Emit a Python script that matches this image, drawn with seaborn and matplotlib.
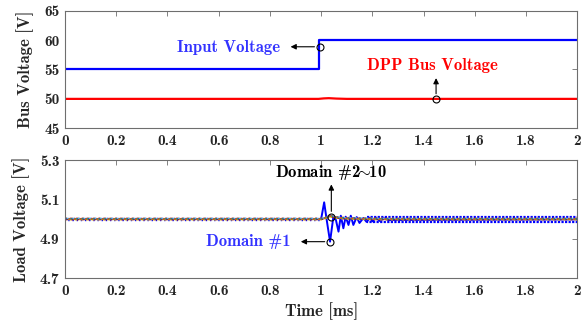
import numpy as np
import pandas as pd
import matplotlib
matplotlib.use("Agg")
import matplotlib.pyplot as plt
import seaborn as sns

# ---------------- data ----------------
# Top panel
t_in = [0.0, 0.99, 0.99, 2.0]
v_in = [55.0, 55.0, 60.0, 60.0]
t_bus = [0.0, 0.99, 1.01, 1.03, 1.06, 1.10, 2.0]
v_bus = [50.0, 50.0, 50.08, 50.12, 50.05, 50.0, 50.0]

# Bottom panel: Domain #1 transient
t_d1 = [0.0, 1.000, 1.003, 1.012, 1.022, 1.035, 1.048, 1.058, 1.068, 1.077, 1.087,
        1.096, 1.107, 1.116, 1.126, 1.139, 1.150, 1.165, 1.178, 1.19, 1.20, 1.215,
        1.23, 1.245, 1.26, 2.0]
v_d1 = [5.0, 5.0, 5.02, 5.085, 4.995, 4.885, 5.012, 4.995, 4.936, 5.017, 4.953,
        5.012, 4.970, 5.017, 4.970, 5.010, 4.980, 5.005, 4.985, 5.006, 4.988, 5.005,
        4.99, 5.004, 4.995, 4.998]
# Domain #1 ripple envelope (steady state)
t_rip_pre = [0.0, 1.0]
v_rip_pre_hi = [5.006, 5.006]
v_rip_pre_lo = [4.994, 4.994]
t_rip_post = [1.18, 2.0]
v_rip_post_hi = [5.011, 5.011]
v_rip_post_lo = [4.986, 4.986]

# Domains #2~10
t_dom = [0.0, 1.0, 1.015, 1.035, 1.06, 1.09, 1.15, 1.25, 2.0]
v_dom = [5.0, 5.0, 5.005, 5.015, 5.008, 5.004, 5.002, 5.0, 5.0]
dom_offsets = [0.004, -0.004, 0.002, -0.002, 0.003, -0.003, 0.001, -0.001, 0.0]
dom_colors = ["#D95319", "#EDB120", "#7E2F8E", "#77AC30", "#4DBEEE",
              "#A2142F", "#0072BD", "#77AC30", "#D95319"]

x_ticks = [0, 0.2, 0.4, 0.6, 0.8, 1, 1.2, 1.4, 1.6, 1.8, 2]
x_ticklabels = ["0", "0.2", "0.4", "0.6", "0.8", "1", "1.2", "1.4", "1.6", "1.8", "2"]
y1_ticks = [45, 50, 55, 60, 65]
y2_ticks = [4.7, 4.9, 5.1, 5.3]
y2_ticklabels = ["4.7", "4.9", "5.1", "5.3"]

# ---------------- style ----------------
sns.set_theme(style="white")
plt.rcParams["font.family"] = ["cmb10", "DejaVu Serif"]
plt.rcParams["mathtext.fontset"] = "cm"
plt.rcParams["axes.unicode_minus"] = False

fig = plt.figure(figsize=(5.83, 3.2), dpi=100)
ax1 = fig.add_axes([0.1115, 0.599, 0.8785, 0.368])
ax2 = fig.add_axes([0.1115, 0.131, 0.8785, 0.369])

TFS = 11      # tick labels
LFS = 12      # axis labels
AFS = 12      # annotations
dark = "#262626"

def style_axis(ax):
    for s in ax.spines.values():
        s.set_color("#6e6e6e")
        s.set_linewidth(0.8)
    ax.tick_params(direction="in", length=3.5, width=0.6, color="#6e6e6e",
                   top=True, right=True, labelsize=TFS, labelcolor=dark, pad=4)
    ax.set_xlim(0, 2)
    ax.set_xticks(x_ticks)
    ax.set_xticklabels(x_ticklabels)

# Top panel
sns.lineplot(x=t_in, y=v_in, ax=ax1, color="#0000ff", lw=1.6, sort=False, estimator=None)
sns.lineplot(x=t_bus, y=v_bus, ax=ax1, color="#ff0000", lw=1.6, sort=False, estimator=None)
style_axis(ax1)
ax1.set_ylim(45, 65)
ax1.set_yticks(y1_ticks)
ax1.set_ylabel("Bus Voltage [V]", fontsize=LFS, color=dark, labelpad=7)

arrow_kw = dict(arrowstyle="-|>", color="black", lw=0.8, mutation_scale=8)
ax1.plot([0.996], [58.85], marker="o", ms=5, mfc="none", mec="black", mew=0.8)
ax1.annotate("", xy=(0.87, 58.85), xytext=(0.985, 58.85), arrowprops=arrow_kw)
ax1.text(0.64, 58.8, "Input Voltage", color="#3333ff", fontsize=AFS,
         ha="center", va="center")
ax1.plot([1.449], [50.0], marker="o", ms=5, mfc="none", mec="black", mew=0.8)
ax1.annotate("", xy=(1.449, 54.0), xytext=(1.449, 50.4), arrowprops=arrow_kw)
ax1.text(1.436, 55.6, "DPP Bus Voltage", color="#ff0000", fontsize=AFS,
         ha="center", va="center")

# Bottom panel
sns.lineplot(x=t_rip_pre, y=v_rip_pre_hi, ax=ax2, color="#0000ff", lw=1.0,
             linestyle=(0, (1, 2)), estimator=None)
sns.lineplot(x=t_rip_pre, y=v_rip_pre_lo, ax=ax2, color="#0000ff", lw=1.0,
             linestyle=(1, (1, 2)), estimator=None)
sns.lineplot(x=t_rip_post, y=v_rip_post_hi, ax=ax2, color="#0000ff", lw=1.6,
             linestyle=(0, (1, 0.6)), estimator=None)
sns.lineplot(x=t_rip_post, y=v_rip_post_lo, ax=ax2, color="#0000ff", lw=1.6,
             linestyle=(0.5, (1, 0.6)), estimator=None)
sns.lineplot(x=t_d1, y=v_d1, ax=ax2, color="#0000ff", lw=1.4, sort=False, estimator=None)
for k, (off, col) in enumerate(zip(dom_offsets, dom_colors)):
    vv = [v + off for v in v_dom]
    sns.lineplot(x=t_dom, y=vv, ax=ax2, color=col, lw=1.0,
                 linestyle=(k * 0.7, (1.5, 2.5)), sort=False, estimator=None)
style_axis(ax2)
ax2.set_ylim(4.7, 5.3)
ax2.set_yticks(y2_ticks)
ax2.set_yticklabels(y2_ticklabels)
ax2.set_ylabel("Load Voltage [V]", fontsize=LFS, color=dark, labelpad=7)
ax2.set_xlabel("Time [ms]", fontsize=LFS, color=dark, labelpad=3)

ax2.plot([1.04], [5.012], marker="o", ms=5, mfc="none", mec="black", mew=0.8)
ax2.annotate("", xy=(1.04, 5.19), xytext=(1.04, 5.025), arrowprops=arrow_kw)
ax2.text(1.04, 5.238, "Domain #2$\\!\\!{\\sim}\\!\\!$10", color="black", fontsize=AFS,
         ha="center", va="center")
ax2.plot([1.035], [4.885], marker="o", ms=5, mfc="none", mec="black", mew=0.8)
ax2.annotate("", xy=(0.91, 4.885), xytext=(1.025, 4.885), arrowprops=arrow_kw)
ax2.text(0.716, 4.885, "Domain #1", color="#3333ff", fontsize=AFS,
         ha="center", va="center")

fig.savefig("out.png", dpi=100)
